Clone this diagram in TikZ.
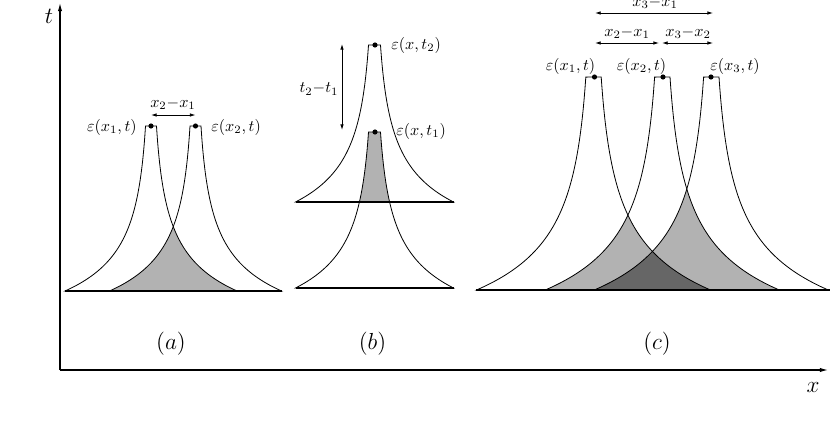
\documentclass[tikz,border=0pt]{standalone}
\usetikzlibrary{arrows.meta}
\definecolor{lg}{gray}{0.7}
\definecolor{dg}{gray}{0.4}
% #1 centre x, #2 half base width, #3 half top width, #4 top y, #5 base y
\newcommand\peak[5]{plot[domain=0:1,samples=90,smooth] ({#1-#2*exp(-3.3333*ln(1+(exp(0.3*ln(#2/#3))-1)*\x))},{#5-(#5-#4)*\x}) -- plot[domain=1:0,samples=90,smooth] ({#1+#2*exp(-3.3333*ln(1+(exp(0.3*ln(#2/#3))-1)*\x))},{#5-(#5-#4)*\x}) -- cycle}
\begin{document}
\begin{tikzpicture}[x=0.62pt,y=-0.62pt,
  curve/.style={line width=0.5pt},
  baseln/.style={line width=1.1pt},
  dim/.style={line width=0.5pt,{Latex[length=3.5pt,width=2.2pt]}-{Latex[length=3.5pt,width=2.2pt]}},
  axis/.style={line width=0.7pt,-{Latex[length=5pt,width=2.6pt]}},
  lab/.style={inner sep=0pt},
  big/.style={inner sep=0pt,font=\fontsize{13.3}{16}\selectfont},
  dot/.style={circle,fill,inner sep=0pt,minimum size=3.2pt}]
\useasboundingbox (0,0) rectangle (830,444);
% axes
\coordinate (O) at (60,370);
\coordinate (T) at (60,3);
\coordinate (X) at (828,370);
\draw[axis] (O) -- (T);
\draw[axis] (O) -- (X);
\node[big] (tl) at (49,16) {$t$};
\node[big] (xl) at (813,387) {$x$};
% ---------- panel (a)
\begin{scope}
  \clip \peak{151}{86}{5.5}{126}{291};
  \fill[lg] \peak{195.5}{86}{5.5}{126}{291};
\end{scope}
\draw[curve] \peak{151}{86}{5.5}{126}{291};
\draw[curve] \peak{195.5}{86}{5.5}{126}{291};
\draw[baseln] (65,291) -- (282,291);
\node[dot] (ea1) at (151,126) {};
\node[dot] (ea2) at (195.5,126) {};
\coordinate (da1) at (151,115);
\coordinate (da2) at (195.5,115);
\draw[dim] (da1) -- (da2);
\node[lab] (la12) at (173,104) {$x_2{-}x_1$};
\node[lab,anchor=east] (lea1) at (137,127) {$\varepsilon(x_1,t)$};
\node[lab,anchor=west] (lea2) at (211,127) {$\varepsilon(x_2,t)$};
\node[big] (pa) at (171,344) {$(a)$};
% ---------- panel (b)
\begin{scope}
  \clip (290,0) rectangle (460,202);
  \fill[lg] \peak{374.5}{79}{6}{132}{288};
\end{scope}
\draw[curve] \peak{374.5}{79}{6}{132}{288};
\draw[curve] \peak{374.5}{79}{6}{45}{202};
\draw[baseln] (295.5,202) -- (453.5,202);
\draw[baseln] (295.5,288) -- (453.5,288);
\node[dot] (eb2) at (375,45) {};
\node[dot] (eb1) at (375,132) {};
\coordinate (db2) at (342,44);
\coordinate (db1) at (342,130);
\draw[dim] (db2) -- (db1);
\node[lab] (lt21) at (319,89) {$t_2{-}t_1$};
\node[lab,anchor=west] (leb2) at (391,45) {$\varepsilon(x,t_2)$};
\node[lab,anchor=west] (leb1) at (396,131) {$\varepsilon(x,t_1)$};
\node[big] (pb) at (372.5,344) {$(b)$};
% ---------- panel (c)
\begin{scope}
  \clip \peak{593.5}{117}{7.7}{77}{290};
  \fill[lg] \peak{662.3}{117}{7.7}{77}{290};
\end{scope}
\begin{scope}
  \clip \peak{662.3}{117}{7.7}{77}{290};
  \fill[lg] \peak{711.3}{117}{7.7}{77}{290};
\end{scope}
\begin{scope}
  \clip \peak{593.5}{117}{7.7}{77}{290};
  \fill[dg] \peak{711.3}{117}{7.7}{77}{290};
\end{scope}
\draw[curve] \peak{593.5}{117}{7.7}{77}{290};
\draw[curve] \peak{662.3}{117}{7.7}{77}{290};
\draw[curve] \peak{711.3}{117}{7.7}{77}{290};
\draw[baseln] (476,290) -- (832,290);
\node[dot] (ec1) at (594.5,77) {};
\node[dot] (ec2) at (663,77) {};
\node[dot] (ec3) at (711,77) {};
\coordinate (dc1t) at (595,13);
\coordinate (dc3t) at (713,13);
\coordinate (dc1) at (595,43);
\coordinate (dc2a) at (659,43);
\coordinate (dc2b) at (662,43);
\coordinate (dc3) at (713,43);
\draw[dim] (dc1t) -- (dc3t);
\draw[dim] (dc1) -- (dc2a);
\draw[dim] (dc2b) -- (dc3);
\node[lab] (l31) at (655,3) {$x_3{-}x_1$};
\node[lab] (l21) at (627,33) {$x_2{-}x_1$};
\node[lab] (l32) at (688,33) {$x_3{-}x_2$};
\node[lab] (lec1) at (570.5,66) {$\varepsilon(x_1,t)$};
\node[lab] (lec2) at (641.5,66) {$\varepsilon(x_2,t)$};
\node[lab] (lec3) at (735,66) {$\varepsilon(x_3,t)$};
\node[big] (pc) at (657,344) {$(c)$};
\end{tikzpicture}
\end{document}
